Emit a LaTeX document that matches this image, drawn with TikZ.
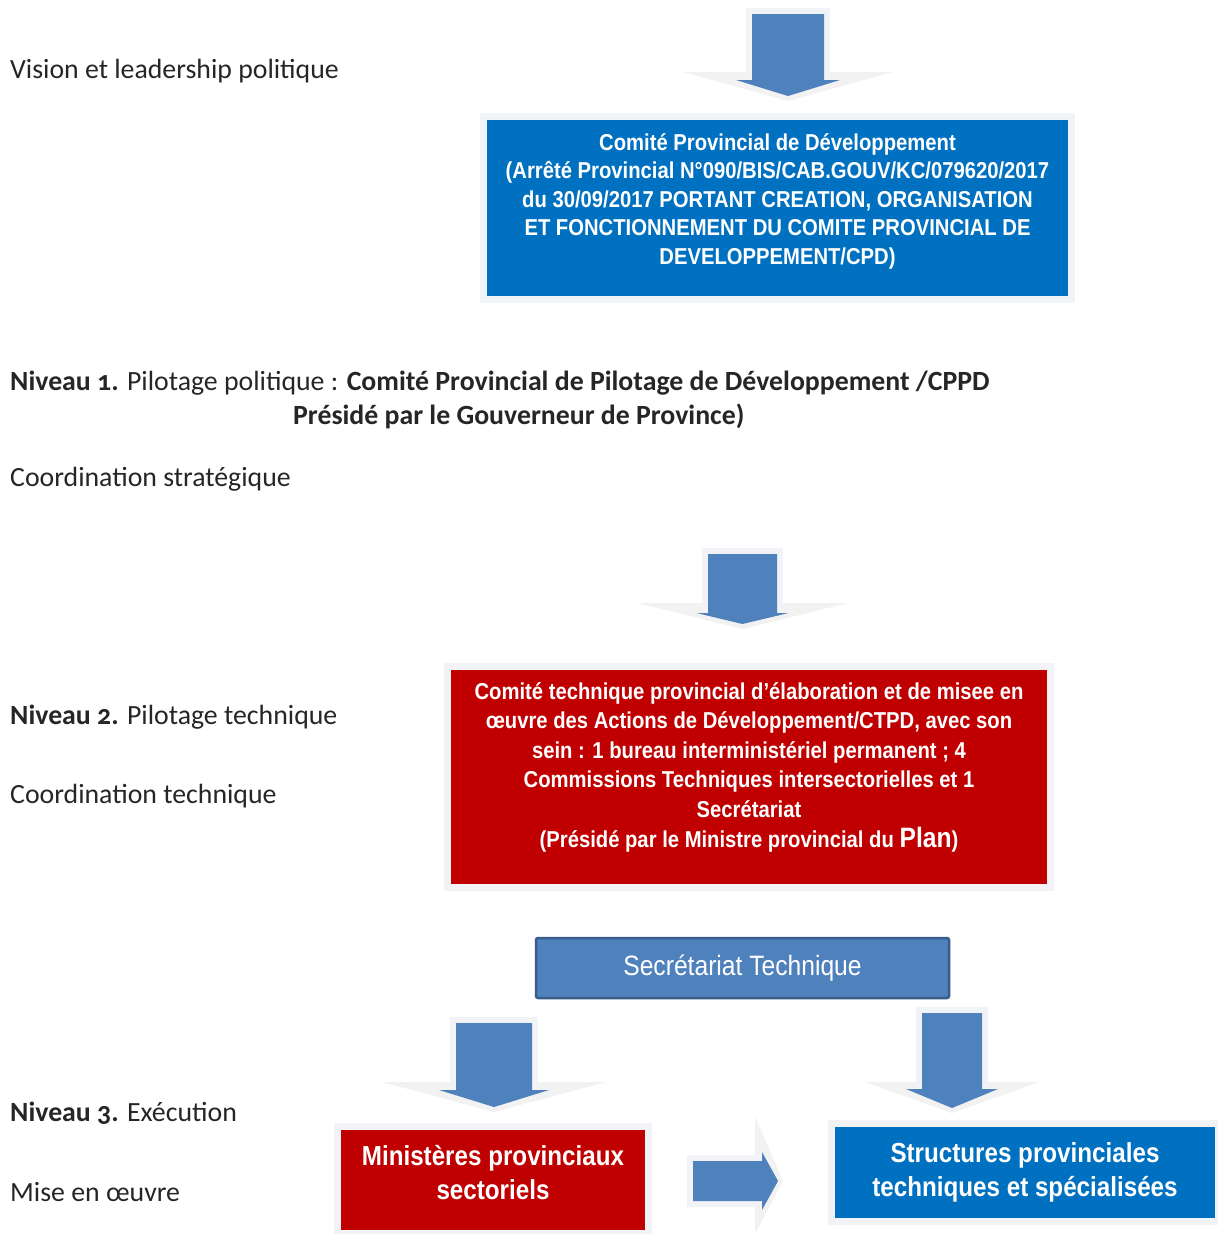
\documentclass[tikz,border=0pt]{standalone}
\usepackage{fontspec}
\setmainfont{Carlito}[Numbers=OldStyle]
\newfontfamily\narrowsf{Liberation Sans}[FakeStretch=0.88]
\definecolor{boxblue}{HTML}{0070C0}
\definecolor{boxred}{HTML}{C00000}
\definecolor{arrowblue}{HTML}{4F81BD}
\definecolor{secborder}{HTML}{385D8A}
\definecolor{glowc}{HTML}{F1F3F6}
\tikzset{
  lbl/.style={anchor=west, inner sep=0pt, font=\fontsize{27.8}{33}\selectfont, text=black!85},
  bigbox/.style={inner sep=0pt},
  boxtext/.style={inner sep=0pt, align=center, text=white},
  glowbox/.style={fill=glowc},
  arrowfill/.style={fill=arrowblue},
  glowtri/.style={fill=black!5},
}
% #1 cx, #2 shaft half, #3 top, #4 head y, #5 head half, #6 tip y, #7 glow half, #8 glow y
\newcommand\bdarrow[8]{%
  \fill[glowtri] (#1-#7,#8) -- (#1+#7,#8) -- (#1,#6+5) -- cycle;
  \fill[glowc] (#1-#2-6,#3-6) rectangle (#1+#2+6,#4);
  \fill[arrowfill] (#1-#2,#3) -- (#1+#2,#3) -- (#1+#2,#4) -- (#1+#5,#4) -- (#1,#6) -- (#1-#5,#4) -- (#1-#2,#4) -- cycle;
}
\begin{document}
\begin{tikzpicture}[x=1pt,y=-1pt]
\useasboundingbox (0,0) rectangle (1218,1234);
\fill[white] (0,0) rectangle (1218,1234);

% labels
\node[lbl] (l1) at (10,71) {Vision et leadership politique};
\node[lbl] (l2) at (10,383) {\textbf{Niveau 1.} Pilotage politique : \textbf{Comité Provincial de Pilotage de Développement /CPPD}};
\node[lbl] (l2b) at (293,416) {\textbf{Présidé par le Gouverneur de Province)}};
\node[lbl] (l3) at (10,479) {Coordination stratégique};
\node[lbl] (l4) at (10,717) {\textbf{Niveau 2.} Pilotage technique};
\node[lbl] (l5) at (10,796) {Coordination technique};
\node[lbl] (l6) at (10,1113) {\textbf{Niveau 3.} Exécution};
\node[lbl] (l7) at (10,1192) {Mise en œuvre};

% top arrow
\bdarrow{788}{36}{14}{80}{52}{96}{105}{72}

% box 1
\fill[glowbox] (480,113) rectangle (1075,303);
\node[bigbox, fill=boxblue, minimum width=581pt, minimum height=176pt] (cpd) at (777.5,208) {};
\node[boxtext, font=\narrowsf\bfseries\fontsize{23}{28.5}\selectfont] (cpdt) at ([yshift=7pt]cpd.center)
  {Comité Provincial de Développement\\
   (Arrêté Provincial N°090/BIS/CAB.GOUV/KC/079620/2017\\
   du 30/09/2017 PORTANT CREATION, ORGANISATION\\
   ET FONCTIONNEMENT DU COMITE PROVINCIAL DE\\
   DEVELOPPEMENT/CPD)};

% second arrow
\bdarrow{742.5}{34.5}{554}{613}{46}{624}{105}{603}

% red box
\fill[glowbox] (444,663) rectangle (1054,891);
\node[bigbox, fill=boxred, minimum width=596pt, minimum height=214pt] (ctpd) at (749,777) {};
\node[boxtext, font=\narrowsf\bfseries\fontsize{23}{29.6}\selectfont] (ctpdt) at ([yshift=10pt]ctpd.center)
  {Comité technique provincial d’élaboration et de misee en\\
   œuvre des Actions de Développement/CTPD, avec son\\
   sein : 1 bureau interministériel permanent ; 4\\
   Commissions Techniques intersectorielles et 1\\
   Secrétariat\\
   (Présidé par le Ministre provincial du {\fontsize{28}{29.6}\selectfont Plan})};

% secretariat
\node[boxtext, fill=arrowblue, draw=secborder, line width=2.5pt, rounded corners=2pt,
  minimum width=413pt, minimum height=60pt,
  font=\narrowsf\fontsize{28}{32}\selectfont] (sec) at (742.5,968) {Secrétariat Technique};

% bottom arrows
\bdarrow{494}{38}{1023}{1090}{55}{1107}{112}{1082}
\bdarrow{952}{30}{1013}{1089}{46}{1108}{87}{1082}

% bottom boxes
\fill[glowbox] (334,1123) rectangle (652,1234);
\node[bigbox, fill=boxred, minimum width=304pt, minimum height=100pt] (min) at (493,1180) {};
\node[boxtext, font=\narrowsf\bfseries\fontsize{27.5}{34}\selectfont] (mint) at ([yshift=7pt]min.center)
  {Ministères provinciaux\\sectoriels};
\fill[glowbox] (828,1120) rectangle (1218,1225);
\node[bigbox, fill=boxblue, minimum width=380pt, minimum height=91pt] (str) at (1025,1172.5) {};
\node[boxtext, font=\narrowsf\bfseries\fontsize{27.5}{34}\selectfont] (strt) at (str.center)
  {Structures provinciales\\techniques et spécialisées};

% right arrow
\fill[glowtri] (755,1117) -- (783,1181) -- (755,1234) -- cycle;
\fill[glowc] (687,1155) rectangle (762,1207);
\fill[arrowfill] (693,1161) -- (762,1161) -- (762,1152) -- (778,1181) -- (762,1210) -- (762,1201) -- (693,1201) -- cycle;
\end{tikzpicture}
\end{document}
